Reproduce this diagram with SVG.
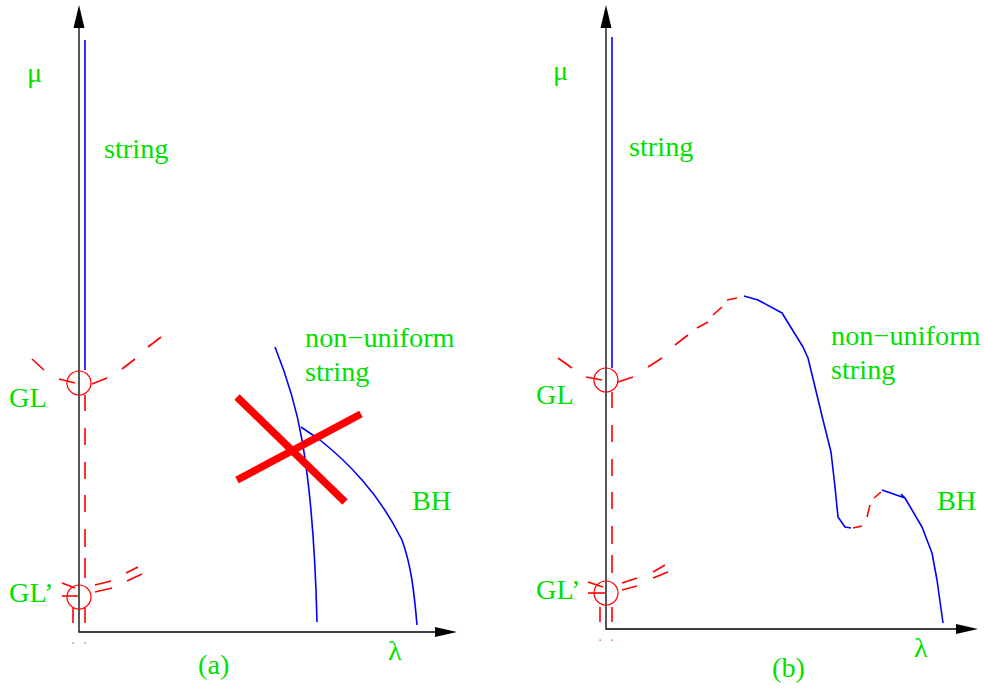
<svg xmlns="http://www.w3.org/2000/svg" width="984" height="688" viewBox="0 0 984 688">
<style>
.t{font-family:"Liberation Serif","Times New Roman",serif;font-size:28.3px;fill:#00e000}
.ax{stroke:#000;stroke-width:1.3;fill:none}
.ah{fill:#000;stroke:none}
.b{stroke:#0000ff;stroke-width:1.6;fill:none;stroke-linejoin:round}
.r{stroke:#ff0000;stroke-width:1.6;fill:none}
.rc{stroke:#ff0000;stroke-width:1.2;fill:none}
.x{stroke:#ff0000;stroke-width:7.5;fill:none}
.dot{fill:#ff0000}
</style>
<rect width="984" height="688" fill="#fff"/>
<g id="axes-a">
<path class="ax" d="M79,28 V632 H436"/>
<polygon class="ah" points="79,5 73.5,28 84.5,28"/>
<polygon class="ah" points="457,632 435,627 435,637"/>
</g>
<g id="axes-b">
<path class="ax" d="M606,28 V629 H957"/>
<polygon class="ah" points="606,5 600.5,28 611.5,28"/>
<polygon class="ah" points="978,629 956,624 956,634"/>
</g>
<g id="connectors">
<line class="b" x1="85" y1="40" x2="85" y2="370"/>
<path class="b" d="M275,347 C285,372 296,405 302,440 C309,480 315,540 317,622"/>
<path class="b" d="M301,427 L320,440 C335,452 350,466 362,480 C378,498 392,520 402,540 C411,565 414,590 417,625"/>
<g class="r">
<line x1="32" y1="359" x2="44" y2="370"/>
<line x1="59" y1="379" x2="75" y2="383"/>
<line x1="92" y1="384" x2="107" y2="378"/>
<line x1="122" y1="369" x2="135" y2="359"/>
<line x1="148" y1="347" x2="161" y2="337"/>
<path d="M85,395 V411 M85,428 V445 M85,462 V479 M85,495 V512 M85,529 V547 M85,558 V578"/>
<path d="M73,608 V623 M85,608 V623"/>
<line x1="62" y1="583" x2="75" y2="588"/>
<line x1="62" y1="596" x2="78" y2="596"/>
<line x1="95" y1="585" x2="111" y2="581"/>
<line x1="95" y1="592" x2="112" y2="588"/>
<line x1="126" y1="573" x2="138" y2="567"/>
<line x1="127" y1="581" x2="142" y2="574"/>
</g>
<rect class="dot" x="72.5" y="642.5" width="1.2" height="1.2"/>
<rect class="dot" x="84.5" y="642.5" width="1.2" height="1.2"/>
<line class="x" x1="237" y1="397" x2="345" y2="502"/>
<line class="x" x1="237" y1="480" x2="361" y2="414"/>
<line class="b" x1="612" y1="37" x2="612" y2="368"/>
<path class="b" d="M744,296 L758,300 L782,313 L803,347 L808,358 L823,420 L831,452 L835,487 L838,517 L845,527 L851,528"/>
<path class="b" d="M882,490 L905,498 L901,494 M905,498 L922,527 L932,553 L937,580 L943,623"/>
<g class="r">
<line x1="558" y1="358" x2="572" y2="368"/>
<line x1="586" y1="377" x2="602" y2="380"/>
<line x1="618" y1="382" x2="633" y2="377"/>
<line x1="648" y1="367" x2="662" y2="358"/>
<line x1="675" y1="345" x2="688" y2="335"/>
<line x1="697" y1="328" x2="708" y2="322"/>
<line x1="713" y1="315" x2="722" y2="307"/>
<line x1="727" y1="300" x2="737" y2="298"/>
<path d="M612,392 V408 M612,425 V442 M612,459 V476 M612,492 V509 M612,526 V544 M612,555 V573"/>
<path d="M600,607 V622 M612,607 V622"/>
<line x1="588" y1="582" x2="603" y2="587"/>
<line x1="588" y1="593" x2="605" y2="593"/>
<line x1="622" y1="583" x2="637" y2="578"/>
<line x1="622" y1="590" x2="637" y2="586"/>
<line x1="653" y1="572" x2="665" y2="565"/>
<line x1="653" y1="578" x2="668" y2="572"/>
<line x1="853" y1="528" x2="862" y2="526"/>
<line x1="867" y1="517" x2="870" y2="505"/>
<line x1="874" y1="498" x2="881" y2="492"/>
</g>
<rect class="dot" x="599.5" y="639.5" width="1.2" height="1.2"/>
<rect class="dot" x="611.5" y="639.5" width="1.2" height="1.2"/>
</g>
<g id="node-GL-a"><circle class="rc" cx="79" cy="383" r="12"/><text class="t" x="9" y="407">GL</text></g>
<g id="node-GLp-a"><circle class="rc" cx="79" cy="597" r="12"/><text class="t" x="9" y="602">GL’</text></g>
<g id="node-GL-b"><circle class="rc" cx="606" cy="380" r="12"/><text class="t" x="536" y="404">GL</text></g>
<g id="node-GLp-b"><circle class="rc" cx="606" cy="593" r="12"/><text class="t" x="536" y="599">GL’</text></g>
<g id="labels-a">
<text class="t" x="27" y="82">μ</text>
<text class="t" x="104" y="158">string</text>
<text class="t" x="305" y="347">non−uniform</text>
<text class="t" x="305" y="381">string</text>
<text class="t" x="412" y="510">BH</text>
<text class="t" x="388" y="660">λ</text>
<text class="t" x="198" y="674">(a)</text>
</g>
<g id="labels-b">
<text class="t" x="553" y="80">μ</text>
<text class="t" x="629" y="156">string</text>
<text class="t" x="831" y="345">non−uniform</text>
<text class="t" x="831" y="379">string</text>
<text class="t" x="937" y="510">BH</text>
<text class="t" x="914" y="657">λ</text>
<text class="t" x="772" y="677">(b)</text>
</g>
</svg>
